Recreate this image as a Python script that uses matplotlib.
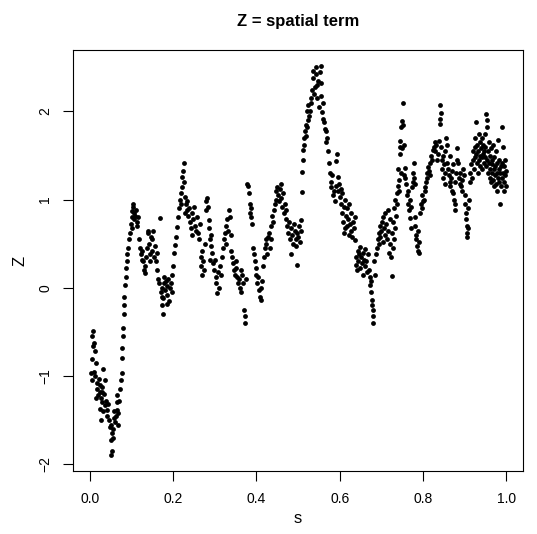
import numpy as np
import matplotlib
matplotlib.use("Agg")
import matplotlib.pyplot as plt

plt.rcParams["font.family"] = ["Liberation Sans", "DejaVu Sans"]

# (s, Z) pairs, left to right
pts_a = [  # s 0.00 - 0.12
    (0.005, -0.55), (0.008, -0.49), (0.010, -0.62), (0.007, -0.66), (0.012, -0.72),
    (0.004, -0.81), (0.015, -0.85), (0.003, -0.97), (0.006, -1.05), (0.012, -1.00),
    (0.018, -1.08), (0.016, -1.15), (0.020, -1.22), (0.014, -1.25), (0.009, -0.95),
    (0.022, -1.03), (0.025, -1.10), (0.024, -1.18), (0.027, -1.25), (0.030, -1.12),
    (0.032, -0.92), (0.028, -1.30), (0.034, -1.20), (0.036, -1.33), (0.038, -1.28),
    (0.026, -1.50), (0.031, -1.40), (0.040, -1.38), (0.042, -1.45), (0.044, -1.32),
    (0.035, -1.05), (0.029, -1.18), (0.023, -1.37), (0.046, -1.50), (0.048, -1.58),
    (0.050, -1.55), (0.052, -1.65), (0.050, -1.72), (0.053, -1.85), (0.051, -1.90),
    (0.055, -1.60), (0.057, -1.48), (0.058, -1.40), (0.060, -1.52), (0.056, -1.70),
    (0.062, -1.45), (0.064, -1.38), (0.066, -1.30), (0.068, -1.42), (0.065, -1.22),
    (0.070, -1.28), (0.072, -1.15), (0.074, -1.05), (0.067, -1.55), (0.076, -0.97),
    (0.077, -0.80), (0.078, -0.68), (0.079, -0.55), (0.080, -0.45), (0.081, -0.30),
    (0.083, -0.20), (0.083, -0.10), (0.085, 0.03), (0.086, 0.12), (0.087, 0.22),
    (0.088, 0.30), (0.090, 0.38), (0.092, 0.45), (0.093, 0.55), (0.096, 0.62),
    (0.098, 0.72), (0.100, 0.80), (0.101, 0.87), (0.103, 0.92), (0.104, 0.95),
    (0.106, 0.85), (0.105, 0.78), (0.108, 0.82), (0.110, 0.88), (0.112, 0.75),
    (0.113, 0.70), (0.102, 0.68), (0.115, 0.80), (0.118, 0.55),
]

pts_b = [  # s 0.12 - 0.30
    (0.120, 0.45), (0.122, 0.38), (0.124, 0.32), (0.126, 0.42), (0.128, 0.30),
    (0.130, 0.20), (0.132, 0.25), (0.135, 0.35), (0.137, 0.45), (0.140, 0.62),
    (0.142, 0.50), (0.144, 0.38), (0.146, 0.58), (0.148, 0.42), (0.150, 0.55),
    (0.152, 0.65), (0.155, 0.35), (0.157, 0.48), (0.158, 0.30), (0.160, 0.40),
    (0.133, 0.17), (0.139, 0.65), (0.145, 0.30), (0.162, 0.20), (0.164, 0.10),
    (0.166, 0.05), (0.168, 0.79), (0.170, -0.05), (0.172, 0.00), (0.174, -0.10),
    (0.173, -0.20), (0.176, -0.30), (0.178, 0.05), (0.180, -0.02), (0.182, 0.08),
    (0.184, -0.08), (0.186, 0.02), (0.188, 0.10), (0.190, -0.15), (0.192, 0.00),
    (0.194, 0.05), (0.196, 0.15), (0.175, -0.12), (0.185, -0.18), (0.179, 0.12),
    (0.198, -0.05), (0.200, 0.25), (0.202, 0.40), (0.205, 0.49), (0.207, 0.58),
    (0.210, 0.69), (0.212, 0.80), (0.214, 0.90), (0.216, 1.00), (0.218, 1.07),
    (0.220, 1.14), (0.222, 1.26), (0.224, 1.33), (0.226, 1.41), (0.225, 1.20),
    (0.228, 1.03), (0.230, 0.95), (0.232, 0.88), (0.234, 0.98), (0.236, 0.82),
    (0.238, 0.90), (0.240, 0.75), (0.242, 0.68), (0.244, 0.60), (0.229, 0.85),
    (0.219, 0.95), (0.246, 0.85), (0.248, 0.78), (0.250, 0.92), (0.252, 0.70),
    (0.255, 0.65), (0.257, 0.80), (0.260, 0.62), (0.262, 0.55), (0.264, 0.72),
    (0.266, 0.35), (0.268, 0.25), (0.270, 0.15), (0.270, 0.42), (0.272, 0.30),
    (0.274, 0.20), (0.276, 0.50), (0.278, 0.98), (0.280, 0.88), (0.282, 1.02),
    (0.284, 0.92), (0.286, 0.77), (0.285, 0.68), (0.288, 0.55), (0.290, 0.47),
    (0.289, 0.32), (0.292, 0.60), (0.294, 0.40), (0.296, 0.28), (0.298, 0.20),
]

pts_c = [  # s 0.30 - 0.51
    (0.300, 0.32), (0.302, 0.12), (0.304, 0.06), (0.306, -0.06), (0.308, 0.18),
    (0.310, 0.00), (0.312, 0.25), (0.314, 0.15), (0.318, 0.35), (0.320, 0.45),
    (0.322, 0.55), (0.324, 0.62), (0.326, 0.50), (0.328, 0.70), (0.330, 0.78),
    (0.332, 0.65), (0.334, 0.88), (0.336, 0.80), (0.338, 0.60), (0.340, 0.42),
    (0.342, 0.35), (0.344, 0.28), (0.346, 0.20), (0.348, 0.15), (0.350, 0.30),
    (0.352, 0.22), (0.354, 0.12), (0.356, 0.05), (0.358, 0.10), (0.360, 0.00),
    (0.362, -0.05), (0.364, 0.20), (0.366, 0.15), (0.368, 0.06), (0.370, -0.25),
    (0.372, -0.32), (0.373, -0.40), (0.375, 0.10), (0.378, 1.18), (0.380, 1.15),
    (0.382, 1.08), (0.384, 0.95), (0.385, 0.85), (0.386, 0.90), (0.388, 0.80),
    (0.390, 0.72), (0.392, 0.45), (0.394, 0.38), (0.396, 0.30), (0.398, 0.22),
    (0.400, 0.15), (0.402, 0.05), (0.404, 0.12), (0.406, -0.02), (0.408, -0.10),
    (0.410, -0.14), (0.412, 0.00), (0.414, 0.08), (0.416, 0.25), (0.418, 0.35),
    (0.420, 0.45), (0.422, 0.55), (0.424, 0.50), (0.426, 0.38), (0.428, 0.58),
    (0.430, 0.62), (0.432, 0.45), (0.434, 0.55), (0.436, 0.70), (0.438, 0.82),
    (0.440, 0.75), (0.442, 0.88), (0.444, 0.95), (0.446, 1.00), (0.448, 1.10),
    (0.450, 1.14), (0.452, 1.05), (0.454, 0.98), (0.456, 1.12), (0.458, 1.18),
    (0.460, 1.02), (0.462, 0.92), (0.464, 1.08), (0.466, 0.85), (0.468, 0.95),
    (0.470, 0.78), (0.472, 0.88), (0.474, 0.70), (0.476, 0.62), (0.478, 0.75),
    (0.480, 0.55), (0.482, 0.38), (0.484, 0.68), (0.486, 0.60), (0.488, 0.50),
    (0.490, 0.72), (0.492, 0.65), (0.494, 0.55), (0.496, 0.48), (0.497, 0.26),
    (0.498, 0.62), (0.500, 0.58), (0.502, 0.70), (0.504, 0.52), (0.506, 0.65),
]

pts_d = [  # s 0.51 - 0.72
    (0.508, 0.77), (0.509, 1.09), (0.510, 1.31), (0.511, 1.45), (0.512, 1.56),
    (0.514, 1.62), (0.515, 1.70), (0.517, 1.78), (0.518, 1.85), (0.520, 1.72),
    (0.521, 2.00), (0.522, 1.82), (0.524, 2.07), (0.525, 1.90), (0.527, 1.95),
    (0.528, 2.00), (0.530, 2.10), (0.532, 2.15), (0.534, 2.24), (0.535, 2.46),
    (0.537, 2.38), (0.538, 2.20), (0.540, 2.28), (0.542, 2.50), (0.544, 2.42),
    (0.545, 2.30), (0.546, 2.15), (0.548, 2.35), (0.550, 2.05), (0.552, 2.45),
    (0.554, 2.52), (0.555, 2.18), (0.556, 2.32), (0.558, 1.99), (0.559, 2.10),
    (0.560, 1.92), (0.562, 1.88), (0.564, 1.80), (0.566, 1.78), (0.568, 1.65),
    (0.570, 1.70), (0.572, 1.55), (0.574, 1.41), (0.576, 1.30), (0.578, 1.20),
    (0.580, 1.14), (0.582, 1.28), (0.584, 1.05), (0.586, 1.10), (0.588, 0.98),
    (0.590, 1.15), (0.592, 1.44), (0.594, 1.52), (0.595, 1.26), (0.597, 1.10),
    (0.598, 1.18), (0.600, 1.03), (0.602, 0.95), (0.603, 1.12), (0.605, 0.85),
    (0.606, 1.08), (0.608, 0.75), (0.610, 0.92), (0.611, 0.62), (0.612, 0.68),
    (0.614, 1.00), (0.615, 0.82), (0.617, 0.70), (0.618, 0.90), (0.620, 0.78),
    (0.622, 0.95), (0.623, 0.60), (0.625, 0.72), (0.627, 0.85), (0.628, 0.65),
    (0.630, 0.58), (0.632, 0.75), (0.634, 0.68), (0.636, 0.80), (0.638, 0.54),
    (0.639, 0.35), (0.640, 0.26), (0.641, 0.20), (0.643, 0.42), (0.645, 0.30),
    (0.647, 0.38), (0.649, 0.22), (0.650, 0.46), (0.652, 0.35), (0.654, 0.28),
    (0.655, 0.15), (0.657, 0.40), (0.659, 0.32), (0.660, 0.25), (0.662, 0.44),
    (0.664, 0.30), (0.666, 0.18), (0.668, 0.38), (0.670, 0.20), (0.672, 0.12),
    (0.674, 0.03), (0.675, -0.05), (0.676, 0.08), (0.677, -0.14), (0.678, -0.20),
    (0.679, -0.25), (0.680, -0.32), (0.681, -0.40), (0.683, 0.30), (0.685, 0.15),
    (0.687, 0.38), (0.690, 0.45), (0.692, 0.55), (0.694, 0.50), (0.695, 0.62),
    (0.697, 0.58), (0.698, 0.70), (0.700, 0.65), (0.702, 0.75), (0.703, 0.52),
    (0.705, 0.80), (0.706, 0.68), (0.708, 0.60), (0.710, 0.85), (0.712, 0.72),
    (0.714, 0.55), (0.715, 0.88), (0.717, 0.65), (0.719, 0.40), (0.720, 0.78),
]

pts_e = [  # s 0.72 - 0.92
    (0.722, 0.50), (0.724, 0.35), (0.725, 0.62), (0.726, 0.13), (0.727, 0.45),
    (0.728, 0.75), (0.730, 0.55), (0.731, 0.90), (0.733, 0.68), (0.734, 1.00),
    (0.736, 0.82), (0.737, 0.95), (0.738, 1.07), (0.739, 1.16), (0.740, 1.35),
    (0.742, 1.22), (0.743, 1.10), (0.744, 1.52), (0.745, 1.60), (0.746, 1.67),
    (0.747, 1.82), (0.748, 1.30), (0.749, 1.58), (0.750, 1.89), (0.751, 1.85),
    (0.753, 2.10), (0.754, 1.62), (0.755, 1.28), (0.756, 1.36), (0.758, 1.25),
    (0.760, 1.18), (0.762, 1.05), (0.763, 0.95), (0.765, 1.10), (0.766, 0.88),
    (0.768, 1.00), (0.770, 0.79), (0.771, 0.92), (0.772, 0.68), (0.774, 1.14),
    (0.775, 1.20), (0.777, 1.30), (0.778, 1.25), (0.779, 1.41), (0.780, 0.80),
    (0.781, 1.18), (0.782, 0.70), (0.783, 0.60), (0.784, 0.55), (0.786, 0.48),
    (0.787, 0.65), (0.788, 0.42), (0.790, 0.39), (0.791, 0.52), (0.793, 0.85),
    (0.795, 0.95), (0.797, 0.90), (0.798, 1.05), (0.800, 0.98), (0.802, 1.00),
    (0.804, 1.10), (0.806, 1.14), (0.808, 1.20), (0.810, 1.25), (0.811, 1.30),
    (0.813, 1.37), (0.815, 1.32), (0.816, 1.28), (0.818, 1.41), (0.820, 1.50),
    (0.822, 1.45), (0.824, 1.56), (0.826, 1.60), (0.828, 1.65), (0.830, 1.55),
    (0.832, 1.62), (0.834, 1.45), (0.836, 1.52), (0.838, 1.67), (0.840, 1.86),
    (0.841, 1.92), (0.842, 2.07), (0.843, 1.98), (0.844, 1.60), (0.845, 1.45),
    (0.846, 1.35), (0.848, 1.50), (0.849, 1.25), (0.850, 1.40), (0.852, 1.55),
    (0.853, 1.30), (0.854, 1.18), (0.855, 1.70), (0.857, 1.42), (0.858, 1.62),
    (0.860, 1.35), (0.862, 1.28), (0.864, 1.20), (0.865, 1.50), (0.866, 1.15),
    (0.868, 1.25), (0.869, 1.10), (0.870, 1.33), (0.872, 1.40), (0.873, 1.07),
    (0.874, 1.00), (0.876, 0.95), (0.877, 0.88), (0.878, 1.20), (0.880, 1.30),
    (0.882, 1.45), (0.883, 1.58), (0.885, 1.42), (0.886, 1.25), (0.888, 1.18),
    (0.890, 1.30), (0.892, 1.15), (0.894, 1.10), (0.895, 1.22), (0.897, 1.35),
    (0.899, 1.28), (0.900, 1.05), (0.902, 0.95), (0.903, 0.85), (0.904, 0.78),
    (0.905, 0.70), (0.906, 0.62), (0.907, 0.58), (0.908, 0.68), (0.909, 0.90),
    (0.910, 1.00), (0.912, 1.20), (0.914, 1.30), (0.916, 1.40), (0.918, 1.25),
]

pts_f = [  # s 0.92 - 1.00
    (0.920, 1.45), (0.921, 1.55), (0.922, 1.35), (0.924, 1.60), (0.925, 1.48),
    (0.926, 1.70), (0.927, 1.88), (0.928, 1.52), (0.930, 1.42), (0.931, 1.62),
    (0.932, 1.30), (0.933, 1.55), (0.934, 1.45), (0.935, 1.75), (0.936, 1.50),
    (0.937, 1.38), (0.938, 1.65), (0.940, 1.58), (0.941, 1.48), (0.942, 1.70),
    (0.943, 1.35), (0.944, 1.52), (0.945, 1.62), (0.946, 1.42), (0.947, 1.55),
    (0.948, 1.75), (0.949, 1.48), (0.950, 1.60), (0.951, 1.38), (0.952, 1.97),
    (0.953, 1.90), (0.954, 1.82), (0.955, 1.45), (0.956, 1.55), (0.957, 1.30),
    (0.958, 1.65), (0.959, 1.42), (0.960, 1.25), (0.961, 1.50), (0.962, 1.35),
    (0.963, 1.20), (0.964, 1.58), (0.965, 1.40), (0.966, 1.30), (0.967, 1.45),
    (0.968, 1.22), (0.969, 1.62), (0.970, 1.35), (0.971, 1.15), (0.972, 1.48),
    (0.973, 1.28), (0.974, 1.38), (0.975, 1.18), (0.976, 1.55), (0.977, 1.30),
    (0.978, 1.42), (0.979, 1.10), (0.980, 1.25), (0.981, 1.68), (0.982, 1.35),
    (0.983, 1.20), (0.984, 1.45), (0.985, 1.30), (0.986, 0.95), (0.987, 1.15),
    (0.988, 1.38), (0.989, 1.25), (0.990, 1.82), (0.991, 1.42), (0.992, 1.60),
    (0.993, 1.30), (0.994, 1.20), (0.995, 1.38), (0.996, 1.10), (0.997, 1.28),
    (0.998, 1.45), (0.999, 1.33), (1.000, 1.15),
]

x_ticks = [0.0, 0.2, 0.4, 0.6, 0.8, 1.0]
y_ticks = [-2, -1, 0, 1, 2]

pts = np.array(pts_a + pts_b + pts_c + pts_d + pts_e + pts_f)
s, z = pts[:, 0], pts[:, 1]

fig = plt.figure(figsize=(5.37, 5.34), dpi=100)
ax = fig.add_axes([73.3 / 537, 63 / 534, 449.5 / 537, 421 / 534])
ax.scatter(s, z, s=12, c="black", linewidths=0)

# R style 4% padding
ax.set_xlim(-0.04, 1.04)
ax.set_ylim(z.min() - 0.04 * np.ptp(z), z.max() + 0.04 * np.ptp(z))
ax.set_xticks(x_ticks)
ax.set_xticklabels(["%.1f" % t for t in x_ticks])
ax.set_yticks(y_ticks)
ax.set_yticklabels([str(t).replace("-", "\u2212") for t in y_ticks], rotation=90, va="center")
ax.tick_params(direction="out", length=7, width=0.8, labelsize=10, pad=8)
for sp in ax.spines.values():
    sp.set_linewidth(0.8)

ax.set_xlabel("s", fontsize=12, labelpad=4)
ax.set_ylabel("Z", fontsize=12, labelpad=8)
ax.set_title("Z = spatial term", fontsize=12, fontweight="bold", pad=17)

fig.savefig("out.png", dpi=100)
